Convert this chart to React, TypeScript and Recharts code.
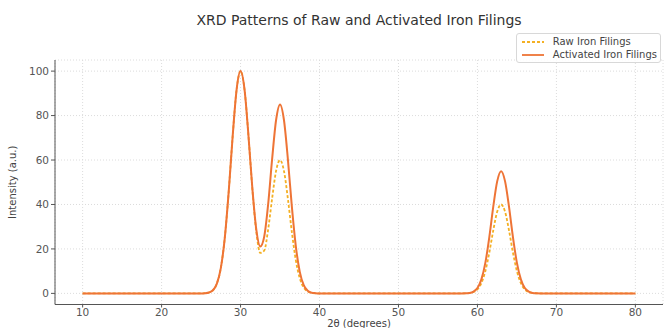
import { LineChart, Line, XAxis, YAxis, CartesianGrid, Legend } from "recharts";

const twoTheta = [
  10, 15, 20, 24, 25, 25.5, 26, 26.5, 27, 27.5, 28, 28.5, 29, 29.5, 30, 30.5, 31, 31.5, 32, 32.5, 33, 33.5,
  34, 34.5, 35, 35.5, 36, 36.5, 37, 37.5, 38, 38.5, 39, 39.5, 40, 45, 50, 55, 57, 58, 58.5, 59, 59.5, 60,
  60.5, 61, 61.5, 62, 62.5, 63, 63.5, 64, 64.5, 65, 65.5, 66, 66.5, 67, 67.5, 68, 70, 75, 80,
];
const rawIntensity = [
  0, 0, 0, 0, 0, 0.09, 0.39, 1.4, 4.4, 11.4, 24.9, 45.8, 70.7, 91.7, 100, 91.8, 70.9, 46.7, 27.5, 18.2, 19.3, 28.9,
  42.8, 55.1, 60, 55.0, 42.4, 27.5, 14.9, 6.8, 2.6, 0.9, 0.2, 0.05, 0, 0, 0, 0, 0, 0, 0.04, 0.15, 0.6, 1.8,
  4.6, 10.0, 18.3, 28.3, 36.7, 40, 36.7, 28.3, 18.3, 10.0, 4.6, 1.8, 0.6, 0.15, 0.04, 0, 0, 0, 0,
];
const activatedIntensity = [
  0, 0, 0, 0, 0, 0.09, 0.39, 1.4, 4.4, 11.4, 24.9, 45.8, 70.7, 91.7, 100, 91.8, 71.0, 47.0, 28.6, 21.1, 25.6, 40.3,
  60.5, 78.0, 85, 77.9, 60.1, 38.9, 21.2, 9.7, 3.7, 1.2, 0.3, 0.1, 0, 0, 0, 0, 0, 0, 0.05, 0.2, 0.8, 2.4,
  6.3, 13.7, 25.2, 38.9, 50.4, 55, 50.4, 38.9, 25.2, 13.7, 6.3, 2.4, 0.8, 0.2, 0.05, 0, 0, 0, 0,
];
const xTicks = [10, 20, 30, 40, 50, 60, 70, 80];
const yTicks = [0, 20, 40, 60, 80, 100];

const RAW_COLOR = "#f4b023";
const ACT_COLOR = "#ee7436";
const FONT = "'DejaVu Sans', sans-serif";

const data = twoTheta.map((t, i) => ({
  t,
  raw: rawIntensity[i],
  activated: activatedIntensity[i],
}));

function LegendBox() {
  const rows = [
    { label: "Raw Iron Filings", color: RAW_COLOR, dash: "3 2" },
    { label: "Activated Iron Filings", color: ACT_COLOR, dash: undefined },
  ];
  return (
    <div
      style={{
        border: "1px solid #d8d8d8",
        borderRadius: 3,
        background: "rgba(255,255,255,0.85)",
        padding: "1px 3px 1px 4px",
        fontFamily: FONT,
        fontSize: 10,
        color: "#444",
        lineHeight: "13px",
      }}
    >
      {rows.map((r) => (
        <div key={r.label} style={{ display: "flex", alignItems: "center" }}>
          <svg width={24} height={8} style={{ marginRight: 8 }}>
            <line x1={1} y1={4} x2={23} y2={4} stroke={r.color} strokeWidth={1.8} strokeDasharray={r.dash} />
          </svg>
          <span>{r.label}</span>
        </div>
      ))}
    </div>
  );
}

export default function App() {
  return (
    <div style={{ position: "absolute", left: 0, top: 0, width: 666, height: 328, background: "#fff" }}>
      <div
        style={{
          position: "absolute",
          left: 55,
          width: 608,
          top: 12,
          textAlign: "center",
          fontFamily: FONT,
          fontSize: 14,
          color: "#333",
        }}
      >
        XRD Patterns of Raw and Activated Iron Filings
      </div>
      <LineChart width={666} height={328} data={data} margin={{ top: 30, right: 3, bottom: 0, left: 0 }}>
        <CartesianGrid stroke="#dcdcdc" strokeDasharray="1 2" />
        <XAxis
          dataKey="t"
          type="number"
          domain={[6.5, 83.5]}
          ticks={xTicks}
          height={23.5}
          tickSize={3}
          tickMargin={1}
          stroke="#555"
          tick={{ fontSize: 10.5, fill: "#555", fontFamily: FONT }}
          label={{
            value: "2θ (degrees)",
            position: "insideBottom",
            offset: 1,
            style: { fontSize: 10, fill: "#444", fontFamily: FONT },
          }}
        />
        <YAxis
          type="number"
          domain={[-5, 105]}
          ticks={yTicks}
          width={55}
          tickSize={4}
          tickMargin={2}
          stroke="#555"
          tick={{ fontSize: 10.5, fill: "#555", fontFamily: FONT }}
          label={{
            value: "Intensity (a.u.)",
            angle: -90,
            position: "insideLeft",
            offset: 12,
            style: { fontSize: 10, fill: "#444", fontFamily: FONT, textAnchor: "middle" },
          }}
        />
        <Legend
          verticalAlign="top"
          align="right"
          content={() => <LegendBox />}
          wrapperStyle={{ position: "absolute", top: 33, right: 5, left: "auto", width: "auto" }}
        />
        <Line
          type="monotone"
          dataKey="raw"
          stroke={RAW_COLOR}
          strokeWidth={1.8}
          strokeDasharray="3 2"
          dot={false}
          isAnimationActive={false}
        />
        <Line
          type="monotone"
          dataKey="activated"
          stroke={ACT_COLOR}
          strokeWidth={2}
          dot={false}
          isAnimationActive={false}
        />
      </LineChart>
    </div>
  );
}
